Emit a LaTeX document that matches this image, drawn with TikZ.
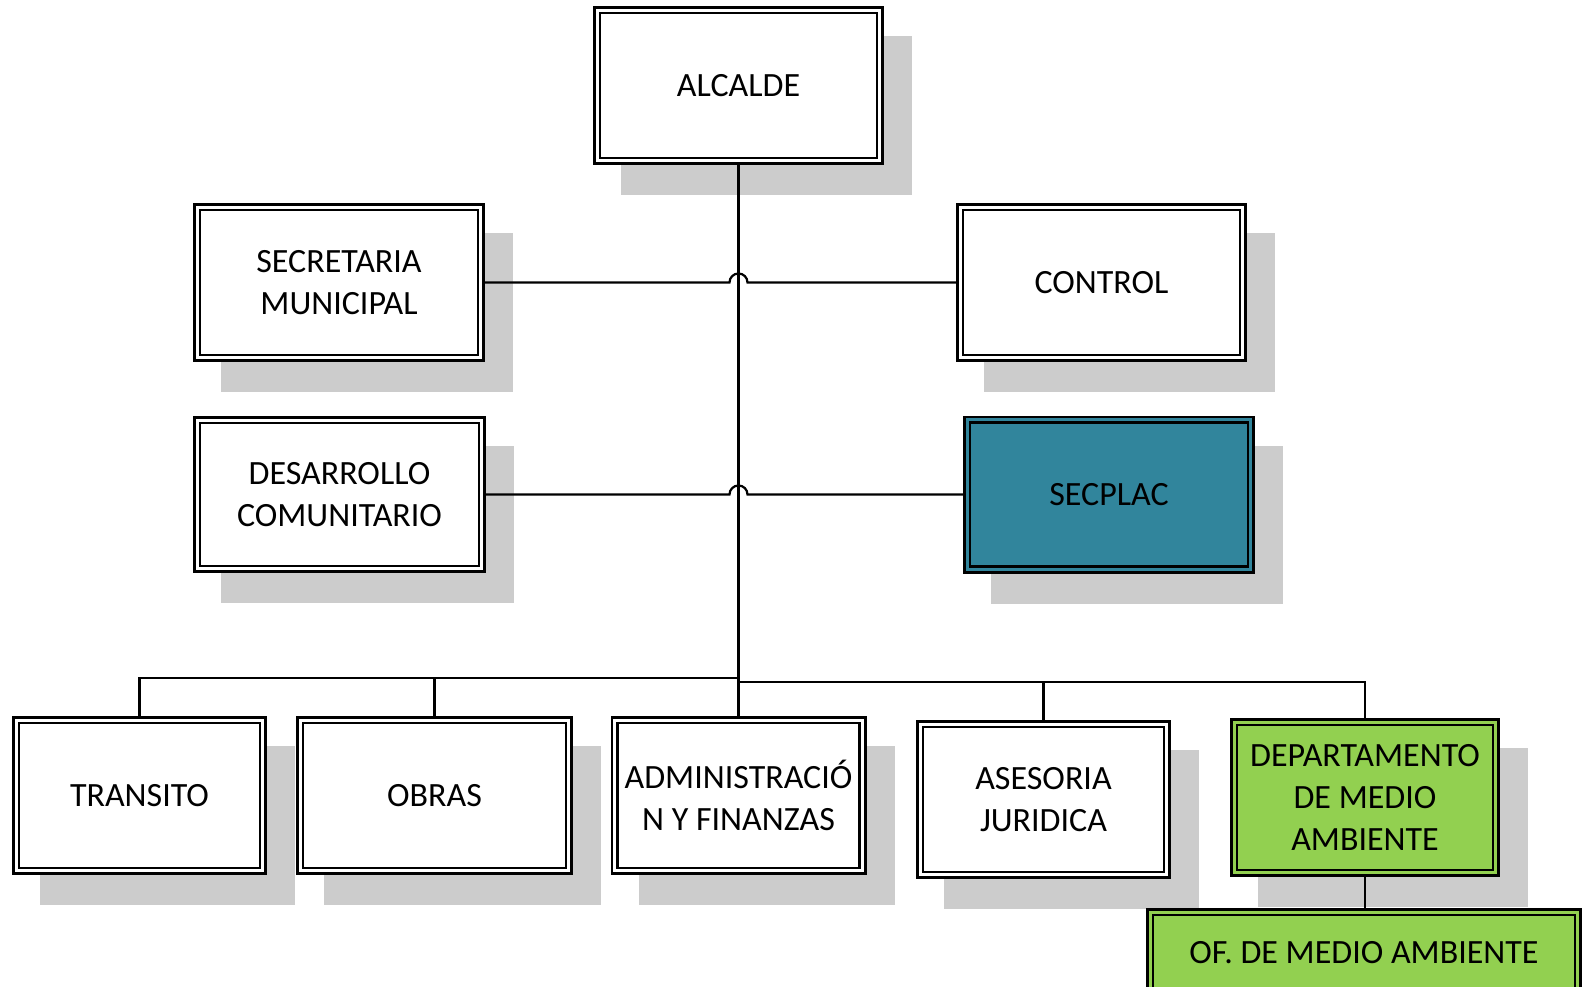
\documentclass[tikz,border=0pt]{standalone}
\usepackage{fontspec}
\setmainfont{Carlito}
\usetikzlibrary{calc}
\pgfdeclarelayer{background}
\pgfsetlayers{background,main}
\definecolor{tealbox}{HTML}{31859C}
\definecolor{greenbox}{HTML}{92D050}
\definecolor{shadowc}{HTML}{CCCCCC}
\tikzset{
  orgbox/.style={rectangle, draw=black, fill=#1, double=#1, line width=2.6pt,
    double distance=3.0pt, inner sep=0pt, outer sep=4.1pt, align=center,
    font=\fontsize{34}{42}\selectfont},
  orgbox/.default=white,
  sz/.style 2 args={minimum width=#1pt-8.2pt, minimum height=#2pt-8.2pt},
  conn/.style={draw=black, line width=2.2pt},
  mainconn/.style={draw=black, line width=3pt},
  boxshadow/.style={fill=shadowc}
}
\begin{document}
\begin{tikzpicture}[x=1pt,y=-1pt]
\useasboundingbox (0,0) rectangle (1583,986);
\begin{scope}
\clip (0,0) rectangle (1583,986);
% boxes
\node[orgbox, sz={291}{159}] (alc) at (738.5,85.5) {ALCALDE};
\node[orgbox, sz={292}{159}] (sec) at (339,282.5) {SECRETARIA\\MUNICIPAL};
\node[orgbox, sz={291}{159}] (con) at (1101.5,282.5) {CONTROL};
\node[orgbox, sz={293}{157}] (des) at (339.5,494.5) {DESARROLLO\\COMUNITARIO};
\node[orgbox=tealbox, sz={292}{158}] (spl) at (1109,494.5) {SECPLAC};
\node[orgbox, sz={255}{159}] (tra) at (139.5,795.5) {TRANSITO};
\node[orgbox, sz={277}{159}] (obr) at (434.5,795.5) {OBRAS};
\node[orgbox, sz={256}{159}] (adm) at (738.5,795.5) {ADMINISTRACIÓ\\N Y FINANZAS};
\node[orgbox, sz={255}{159}] (ase) at (1043.5,799.5) {ASESORIA\\JURIDICA};
\node[orgbox=greenbox, sz={270}{159}] (dep) at (1365,797.5) {DEPARTAMENTO\\DE MEDIO\\AMBIENTE};
\node[orgbox=greenbox, sz={436}{96}] (ofi) at (1364,956) {\raisebox{8pt}{OF. DE MEDIO AMBIENTE}};
% shadows
\begin{pgfonlayer}{background}
\fill[white] (0,0) rectangle (1583,986);
\foreach \n in {alc,sec,con,des,spl,tra,obr,adm,ase,dep}
  \fill[boxshadow] ($(\n.south west)+(28pt,-30pt)$) rectangle ($(\n.north east)+(28pt,-30pt)$);
\end{pgfonlayer}
% connectors
\draw[mainconn] (alc.south) -- (adm.north);
\draw[conn] (sec.east) -- ($(alc.south |- sec.east)+(-9pt,0pt)$)
  arc[start angle=180, end angle=0, radius=9pt] -- (con.west);
\draw[conn] (des.east) -- ($(alc.south |- des.east)+(-9pt,0pt)$)
  arc[start angle=180, end angle=0, radius=9pt] -- (spl.west);
\coordinate (busl) at (738.5,678);
\coordinate (busr) at (738.5,682);
\draw[conn] (tra.north) |- (busl);
\draw[conn] (obr.north) -- (obr.north |- busl);
\draw[conn] (dep.north) |- (busr);
\draw[conn] (ase.north) -- (ase.north |- busr);
\draw[conn] (dep.south) -- (dep.south |- ofi.north);
\end{scope}
\end{tikzpicture}
\end{document}
